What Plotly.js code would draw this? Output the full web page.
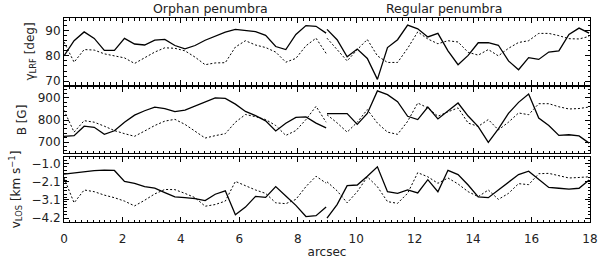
<!DOCTYPE html>
<html>
<head>
<meta charset="utf-8">
<script src="https://cdn.plot.ly/plotly-3.0.1.min.js"></script>
<style>html,body{margin:0;padding:0;background:#fff;}#chart{width:600px;height:262px;}</style>
</head>
<body>
<div id="chart"></div>
<script>
// sample positions (arcsec)
const xOrphan = [0, 0.345, 0.69, 1.035, 1.38, 1.725, 2.07, 2.415, 2.76, 3.105, 3.45, 3.795, 4.14, 4.485, 4.83, 5.175, 5.52, 5.865, 6.21, 6.555, 6.9, 7.245, 7.59, 7.935, 8.28, 8.625, 8.97];
const xRegular = [9, 9.345, 9.69, 10.035, 10.38, 10.725, 11.07, 11.415, 11.76, 12.105, 12.45, 12.795, 13.14, 13.485, 13.83, 14.175, 14.52, 14.865, 15.21, 15.555, 15.9, 16.245, 16.59, 16.935, 17.28, 17.625, 17.97];

// gamma_LRF [deg]
const gammaSolidOrphan = [80, 86, 89.5, 86.9, 82.2, 82.2, 86.9, 84.7, 84.3, 86.2, 86.5, 84.1, 82.8, 84.1, 86.2, 87.8, 89.4, 90.5, 90.1, 89.6, 88.1, 83.7, 82.5, 88.5, 92, 91.7, 89];
const gammaDotOrphan = [85.5, 77.5, 82.5, 82.3, 80.8, 79.9, 79.2, 77, 79.3, 81.5, 83.2, 83, 82, 79.5, 76.5, 77.2, 77.3, 83.5, 86, 84.3, 83.3, 81.5, 77.5, 79, 84, 87, 81];
const gammaSolidRegular = [90.5, 86.4, 79.6, 82.7, 79, 70.7, 83.3, 86.4, 92.2, 90.7, 87.5, 88.9, 82, 76.5, 80.2, 85.2, 85.2, 84.2, 78, 74.5, 79.3, 78.6, 81.5, 82, 88.5, 91, 89];
const gammaDotRegular = [87, 82.7, 78, 82.5, 86.5, 80, 77.4, 77.4, 83, 89.5, 86.7, 84.8, 86, 85.5, 81.4, 80.3, 82.5, 80, 83, 85.3, 86, 88.9, 88.9, 88, 86.8, 86.7, 87.7];

// B [G]
const bSolidOrphan = [726, 729, 772, 767, 735, 751, 790, 822, 842, 858, 852, 838, 845, 864, 882, 900, 898, 872, 839, 820, 796, 750, 785, 812, 814, 786, 764];
const bDotOrphan = [844, 745, 797, 790, 772, 752, 738, 726, 750, 775, 795, 803, 780, 750, 718, 729, 738, 790, 825, 815, 802, 775, 730, 752, 802, 862, 790];
const bSolidRegular = [829, 829, 829, 780, 830, 932, 915, 883, 817, 802, 859, 805, 840, 877, 818, 770, 698, 760, 830, 880, 918, 809, 775, 730, 733, 728, 695];
const bDotRegular = [824, 787, 745, 790, 847, 786, 745, 735, 794, 877, 855, 817, 837, 855, 786, 771, 802, 755, 790, 832, 824, 874, 874, 860, 850, 852, 859];

// v_LOS [km/s]
const vSolidOrphan = [-1.62, -1.55, -1.5, -1.42, -1.39, -1.41, -2.05, -2.16, -2.35, -2.44, -2.7, -2.95, -3.0, -3.05, -3.17, -2.8, -2.6, -4.0, -3.55, -2.92, -2.98, -2.35, -2.9, -3.45, -4.1, -4.05, -3.55];
const vDotOrphan = [-1.85, -3.3, -2.55, -2.65, -2.85, -3.0, -3.2, -3.48, -3.15, -2.78, -2.52, -2.53, -2.75, -3.0, -3.5, -3.4, -3.2, -2.05, -2.3, -2.55, -2.75, -3.3, -3.35, -3.1, -2.35, -1.75, -2.15];
const vSolidRegular = [-4.2, -3.4, -2.3, -2.26, -1.75, -1.2, -2.65, -2.75, -2.55, -2.72, -1.95, -2.65, -1.4, -1.65, -2.26, -2.95, -3.0, -2.55, -2.05, -1.65, -1.45, -1.93, -2.4, -2.45, -2.5, -2.45, -1.97];
const vDotRegular = [-2.07, -2.6, -3.3, -2.65, -1.78, -2.36, -3.23, -3.33, -2.74, -1.54, -1.78, -2.16, -1.85, -2.2, -2.65, -2.94, -2.55, -3.1, -2.75, -2.18, -2.24, -1.6, -1.58, -1.72, -1.85, -1.82, -1.78];

// axis ticks
const xTicks = [0, 2, 4, 6, 8, 10, 12, 14, 16, 18];
const gammaTicks = [70, 80, 90];
const bTicks = [700, 800, 900];
const vTickVals = [-1.0, -2.0667, -3.1333, -4.2];
const vTickText = ['\u22121.0', '\u22122.1', '\u22123.1', '\u22124.2'];
const regionLabels = ['Orphan penumbra', 'Regular penumbra'];
const regionCenters = [5, 13];

const ranges = {g: [68.5, 95], b: [650, 950], v: [-4.42, -0.62]};

function line(x, y, xa, ya, dotted) {
  return {x: x, y: y, xaxis: xa, yaxis: ya, type: 'scatter', mode: 'lines',
    line: {color: '#000', width: dotted ? 1 : 1.3, dash: dotted ? '2px,2px' : 'solid'}, hoverinfo: 'skip'};
}

const data = [
  line(xOrphan, gammaSolidOrphan, 'x', 'y', false),
  line(xOrphan, gammaDotOrphan, 'x', 'y', true),
  line(xRegular, gammaSolidRegular, 'x', 'y', false),
  line(xRegular, gammaDotRegular, 'x', 'y', true),
  line(xOrphan, bSolidOrphan, 'x2', 'y2', false),
  line(xOrphan, bDotOrphan, 'x2', 'y2', true),
  line(xRegular, bSolidRegular, 'x2', 'y2', false),
  line(xRegular, bDotRegular, 'x2', 'y2', true),
  line(xOrphan, vSolidOrphan, 'x3', 'y3', false),
  line(xOrphan, vDotOrphan, 'x3', 'y3', true),
  line(xRegular, vSolidRegular, 'x3', 'y3', false),
  line(xRegular, vDotRegular, 'x3', 'y3', true)
];

const frame = {showline: true, linecolor: '#000', linewidth: 1, mirror: 'ticks', ticks: 'inside',
  tickcolor: '#000', tickwidth: 1, zeroline: false, showgrid: false, fixedrange: true};
const tickFont = {family: 'DejaVu Sans, sans-serif', size: 12, color: '#222'};

function xa(anchor, labels) {
  const a = Object.assign({}, frame, {anchor: anchor, domain: [0, 1], range: [0, 18], tickmode: 'array', tickvals: xTicks,
    ticklen: 5, minor: {ticks: 'inside', dtick: 0.2, tick0: 0, ticklen: 2.5, tickcolor: '#000'},
    showticklabels: labels, tickfont: tickFont});
  if (labels) { a.title = {text: 'arcsec', font: {family: 'DejaVu Sans, sans-serif', size: 12, color: '#222'}, standoff: 2}; a.ticklabelstandoff = 6; }
  return a;
}
function ya(anchor, domain, range, tv, tt, minorDt, title) {
  const a = Object.assign({}, frame, {anchor: anchor, domain: domain, range: range, tickmode: 'array', tickvals: tv,
    ticklen: 5, minor: {ticks: 'inside', dtick: minorDt, ticklen: 2.5, tickcolor: '#000'},
    tickfont: tickFont, title: {text: title, font: {family: 'DejaVu Sans, sans-serif', size: 12, color: '#222'}, standoff: 8}});
  if (tt) a.ticktext = tt;
  return a;
}
function mid(over, range, tv, minorDt, side) {
  return {overlaying: over, anchor: 'free', position: 0.5, range: range, tickmode: 'array', tickvals: tv,
    showline: true, linecolor: '#000', linewidth: 1, ticks: side, ticklen: 4, tickcolor: '#000',
    minor: {ticks: side, dtick: minorDt, ticklen: 2, tickcolor: '#000'},
    showticklabels: false, showgrid: false, zeroline: false, fixedrange: true};
}

const dom1 = [0.672, 1], dom2 = [0.338, 0.662], dom3 = [0, 0.319];

const layout = {
  width: 600, height: 262,
  margin: {l: 64, r: 10, t: 18, b: 40},
  paper_bgcolor: '#fff', plot_bgcolor: '#fff', showlegend: false,
  font: {family: 'DejaVu Sans, sans-serif', size: 12, color: '#222'},
  xaxis: xa('y', false), xaxis2: xa('y2', false), xaxis3: xa('y3', true),
  yaxis: ya('x', dom1, ranges.g, gammaTicks, null, 2, '\u03b3<sub>LRF</sub> [deg]'),
  yaxis2: ya('x2', dom2, ranges.b, bTicks, null, 20, 'B [G]'),
  yaxis3: ya('x3', dom3, ranges.v, vTickVals, vTickText, 0.2, 'v<sub>LOS</sub> [km s<sup>\u22121</sup>]'),
  yaxis4: mid('y', ranges.g, gammaTicks, 2, 'outside'),
  yaxis5: mid('y', ranges.g, gammaTicks, 2, 'inside'),
  yaxis6: mid('y2', ranges.b, bTicks, 20, 'outside'),
  yaxis7: mid('y2', ranges.b, bTicks, 20, 'inside'),
  yaxis8: mid('y3', ranges.v, vTickVals, 0.2, 'outside'),
  yaxis9: mid('y3', ranges.v, vTickVals, 0.2, 'inside'),
  annotations: regionLabels.map((t, i) => ({text: t, x: regionCenters[i], xref: 'x', y: 1, yref: 'paper',
    yanchor: 'bottom', xanchor: 'center', showarrow: false, yshift: 0,
    font: {family: 'DejaVu Sans, sans-serif', size: 12.5, color: '#222'}}))
};

Plotly.newPlot('chart', data, layout, {staticPlot: true, displayModeBar: false});
</script>
</body>
</html>
